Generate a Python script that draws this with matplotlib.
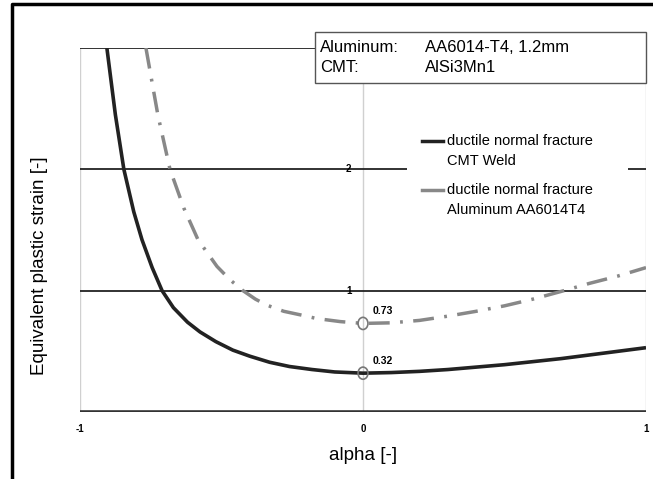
import matplotlib.pyplot as plt
from matplotlib.lines import Line2D
from matplotlib.patches import Rectangle, Ellipse
import numpy as np

plt.rcParams['font.family'] = ['Liberation Sans', 'DejaVu Sans']

# values
weld_x = [-0.905, -0.875, -0.845, -0.81, -0.781, -0.745, -0.71, -0.67, -0.62, -0.576,
          -0.52, -0.46, -0.40, -0.33, -0.26, -0.18, -0.10, 0.0, 0.10, 0.20,
          0.30, 0.40, 0.50, 0.60, 0.70, 0.80, 0.90, 1.00]
weld_y = [3.00, 2.45, 2.00, 1.65, 1.42, 1.19, 1.00, 0.86, 0.74, 0.66,
          0.58, 0.51, 0.46, 0.41, 0.375, 0.35, 0.33, 0.32, 0.325, 0.335,
          0.35, 0.37, 0.39, 0.415, 0.44, 0.47, 0.50, 0.53]
alu_x = [-0.767, -0.725, -0.682, -0.633, -0.583, -0.516, -0.47, -0.424, -0.38, -0.339,
         -0.28, -0.22, -0.163, -0.08, 0.0, 0.10, 0.20, 0.30, 0.40, 0.50,
         0.60, 0.71, 0.80, 0.90, 1.00]
alu_y = [3.00, 2.45, 2.00, 1.68, 1.42, 1.20, 1.09, 1.00, 0.93, 0.88,
         0.83, 0.80, 0.77, 0.745, 0.73, 0.735, 0.755, 0.79, 0.83, 0.875,
         0.93, 1.00, 1.06, 1.12, 1.19]
labels = ['ductile normal fracture\nCMT Weld', 'ductile normal fracture\nAluminum AA6014T4']
x_ticks = [-1, 0, 1]
y_ticks = [1, 2, 3]
y_ticklabels = ['1', '2', '']   # the "3" sits under the info box
info_keys = ['Aluminum:', 'CMT:']
info_vals = ['AA6014-T4, 1.2mm', 'AlSi3Mn1']

fig = plt.figure(figsize=(6.53, 4.79), dpi=100)
ax = fig.add_axes([80/653, 1 - 412/479, 566/653, 364/479])
ax.set_xlim(-1, 1)
ax.set_ylim(0, 3)
for s in ax.spines.values():
    s.set_visible(False)

# grid
for xv in x_ticks:
    ax.axvline(xv, color='#d0d0d0', lw=1, zorder=1)
for yv in y_ticks:
    ax.axhline(yv, color='#222222', lw=1.3, zorder=2)
ax.axhline(0, color='#333333', lw=2.6, zorder=2)

ax.set_xticks(x_ticks)
ax.set_xticklabels([str(v) for v in x_ticks], fontsize=7, fontweight='bold')
ax.tick_params(axis='x', length=0, pad=9)
ax.set_yticks([])
for yv, lab in zip(y_ticks, y_ticklabels):
    if lab:
        ax.text(-0.05, yv, lab, fontsize=7, fontweight='bold', ha='center', va='center', zorder=3)

ax.plot(weld_x, weld_y, color='#222222', lw=2.6, zorder=4, solid_capstyle='butt')
ax.plot(alu_x, alu_y, color='#888888', lw=2.5, zorder=4,
        linestyle=(0, (6, 3, 0.8, 3)), dash_capstyle='butt')

# minimum markers
for xs, ys in [(alu_x, alu_y), (weld_x, weld_y)]:
    i = int(np.argmin(ys))
    ax.add_patch(Ellipse((xs[i], ys[i]), 0.035, 0.1, facecolor='none',
                         edgecolor='#777777', lw=1.2, zorder=5))
    ax.annotate(f'{ys[i]:.2f}', (xs[i], ys[i]), xytext=(7, 5), textcoords='offset points',
                fontsize=7.5, fontweight='bold', ha='left', va='bottom')

# legend drawn by hand
fig.add_artist(Rectangle((407/653, 1 - 225/479), 221/653, 97/479,
                         transform=fig.transFigure, facecolor='white', edgecolor='none', zorder=2))
for k, (lab, col) in enumerate(zip(labels, ['#222222', '#888888'])):
    yy = 1 - (141 + 49*k)/479
    fig.add_artist(Line2D([422/653, 443/653], [yy, yy], transform=fig.transFigure,
                          color=col, lw=2.5, zorder=3))
    for j, line in enumerate(lab.split('\n')):
        fig.text(447/653, yy - j*20/479, line, fontsize=10.5, va='center', ha='left', zorder=3)

# info box
fig.add_artist(Rectangle((315/653, 1 - 83/479), 331/653, 51/479,
                         transform=fig.transFigure, facecolor='white', edgecolor='#555555',
                         lw=1, zorder=2))
for j, (k, v) in enumerate(zip(info_keys, info_vals)):
    yy = 1 - (47 + 21*j)/479
    fig.text(320/653, yy, k, fontsize=12, va='center', ha='left', zorder=3)
    fig.text(425/653, yy, v, fontsize=12, va='center', ha='left', zorder=3)

fig.text(40/653, 1 - 266/479, 'Equivalent plastic strain [-]', fontsize=13.5,
         rotation=90, ha='center', va='center')
fig.text(363/653, 1 - 455/479, 'alpha [-]', fontsize=13.5, ha='center', va='center')

# outer frame (left and top only)
fig.add_artist(Line2D([12/653, 12/653, 1], [0, 1 - 4/479, 1 - 4/479],
                      transform=fig.transFigure, color='black', lw=2.5))

fig.savefig('out.png', dpi=100)
